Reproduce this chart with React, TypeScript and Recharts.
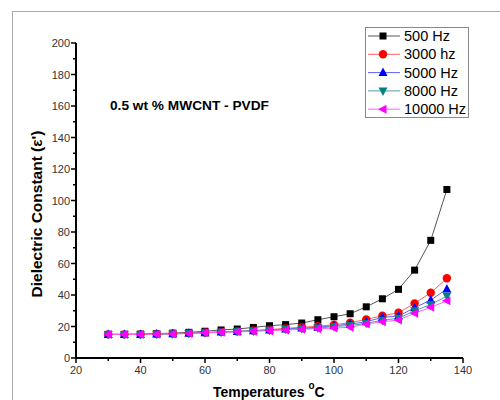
import React from 'react';
import { LineChart, Line, XAxis, YAxis } from 'recharts';

const temps = [30, 35, 40, 45, 50, 55, 60, 65, 70, 75, 80, 85, 90, 95, 100, 105, 110, 115, 120, 125, 130, 135];
const hz500 = [15, 15, 15.2, 15.5, 15.8, 16.3, 17, 17.8, 18.4, 19.4, 20.5, 21.2, 22.2, 24.3, 26.2, 28.1, 32.5, 37.6, 43.6, 55.8, 74.7, 107];
const hz3000 = [15, 15, 15, 15.2, 15.5, 15.8, 16.2, 16.6, 17, 17.5, 18, 18.8, 19.5, 20.2, 21.1, 22.4, 24.5, 26.8, 28.7, 34.7, 41.4, 50.6];
const hz5000 = [15, 15, 15, 15.2, 15.4, 15.7, 16.1, 16.5, 16.9, 17.3, 17.8, 18.4, 19, 19.5, 20.5, 21.5, 23, 25.8, 26.6, 31.9, 36.8, 43.8];
const hz8000 = [15, 15, 15, 15.1, 15.3, 15.6, 16, 16.4, 16.8, 17.2, 17.6, 18.2, 18.6, 19, 20, 20.6, 22, 24, 25.2, 30, 34, 39.3];
const hz10000 = [15, 15, 15, 15.1, 15.3, 15.6, 16, 16.3, 16.6, 17, 17.3, 17.8, 18.2, 18.6, 19, 19.5, 21.6, 23, 24.1, 28.4, 32.2, 36.3];

const xTicks = [20, 30, 40, 50, 60, 70, 80, 90, 100, 110, 120, 130, 140];
const yTicks = [0, 10, 20, 30, 40, 50, 60, 70, 80, 90, 100, 110, 120, 130, 140, 150, 160, 170, 180, 190, 200];

const data = temps.map((t, i) => ({
  t,
  a: hz500[i],
  b: hz3000[i],
  c: hz5000[i],
  d: hz8000[i],
  e: hz10000[i],
}));

const series = [
  { key: 'a', name: '500 Hz', color: '#000000', line: '#555555', shape: 'square' },
  { key: 'b', name: '3000 hz', color: '#ff0000', line: '#ff6060', shape: 'circle' },
  { key: 'c', name: '5000 Hz', color: '#0000ff', line: '#6060ff', shape: 'up' },
  { key: 'd', name: '8000 Hz', color: '#008080', line: '#50a0a0', shape: 'down' },
  { key: 'e', name: '10000 Hz', color: '#ff00ff', line: '#ff60ff', shape: 'left' },
];

const font = 'Liberation Sans, Arial, sans-serif';

function Marker({ cx, cy, shape, color }: any) {
  if (cx == null || cy == null) return null;
  const s = 3.5;
  if (shape === 'square') return <rect x={cx - s} y={cy - s} width={2 * s} height={2 * s} fill={color} />;
  if (shape === 'circle') return <circle cx={cx} cy={cy} r={4.2} fill={color} />;
  let pts = '';
  if (shape === 'up') pts = `${cx},${cy - 5} ${cx - 4.5},${cy + 3.5} ${cx + 4.5},${cy + 3.5}`;
  if (shape === 'down') pts = `${cx},${cy + 5} ${cx - 4.5},${cy - 3.5} ${cx + 4.5},${cy - 3.5}`;
  if (shape === 'left') pts = `${cx - 5},${cy} ${cx + 3.5},${cy - 4.5} ${cx + 3.5},${cy + 4.5}`;
  return <polygon points={pts} fill={color} />;
}

function XTick({ x, y, payload }: any) {
  const major = payload.value % 20 === 0;
  return (
    <g>
      <line x1={x} x2={x} y1={y} y2={y + (major ? 5 : 3)} stroke="#000" strokeWidth={1.5} />
      {major && (
        <text x={x} y={y + 16} textAnchor="middle" fontSize={11} fill="#333" fontFamily={font}>
          {payload.value}
        </text>
      )}
    </g>
  );
}

function YTick({ x, y, payload }: any) {
  const major = payload.value % 20 === 0;
  return (
    <g>
      <line x1={x} x2={x - (major ? 5 : 3)} y1={y} y2={y} stroke="#000" strokeWidth={1.5} />
      {major && (
        <text x={x - 6} y={y + 4} textAnchor="end" fontSize={11} fill="#333" fontFamily={font}>
          {payload.value}
        </text>
      )}
    </g>
  );
}

function LegendBox() {
  return (
    <svg width={104} height={91} style={{ display: 'block' }}>
      <rect x={0.5} y={0.5} width={103} height={90} fill="#fff" stroke="#888" />
      {series.map((s, i) => {
        const cy = 9 + i * 18.3;
        return (
          <g key={s.key}>
            <line x1={3} x2={35} y1={cy} y2={cy} stroke={s.line} strokeWidth={1} />
            <Marker cx={18} cy={cy} shape={s.shape} color={s.color} />
            <text x={39} y={cy + 5} fontSize={14.5} fill="#000" fontFamily={font}>
              {s.name}
            </text>
          </g>
        );
      })}
    </svg>
  );
}

export default function App() {
  return (
    <div style={{ position: 'absolute', left: 0, top: 0, width: 500, height: 400, background: '#fff', overflow: 'hidden' }}>
      <div style={{ position: 'absolute', left: 12, top: 11, width: 600, height: 500, borderLeft: '1px solid #aaa', borderTop: '1px solid #aaa' }} />
      <div style={{ position: 'absolute', left: 0, top: 0 }}>
        <LineChart width={500} height={400} data={data} margin={{ top: 43, right: 37, bottom: 12, left: 0 }}>
          <XAxis
            dataKey="t"
            type="number"
            domain={[20, 140]}
            ticks={xTicks}
            height={30}
            tickSize={0}
            tickMargin={0}
            tickLine={false}
            axisLine={{ stroke: '#000', strokeWidth: 2 }}
            tick={<XTick />}
            interval={0}
          />
          <YAxis
            type="number"
            domain={[0, 200]}
            ticks={yTicks}
            width={76}
            tickSize={0}
            tickMargin={0}
            tickLine={false}
            axisLine={{ stroke: '#000', strokeWidth: 2 }}
            tick={<YTick />}
            interval={0}
          />
          {series.map((s) => (
            <Line
              key={s.key}
              dataKey={s.key}
              name={s.name}
              stroke={s.line}
              strokeWidth={1}
              isAnimationActive={false}
              dot={(p: any) => <Marker key={`${s.key}-${p.index}`} cx={p.cx} cy={p.cy} shape={s.shape} color={s.color} />}
              activeDot={false}
            />
          ))}
        </LineChart>
      </div>
      <div style={{ position: 'absolute', left: 365, top: 27 }}>
        <LegendBox />
      </div>
      <div style={{ position: 'absolute', left: 110, top: 98, fontFamily: font, fontWeight: 'bold', fontSize: 13.7, color: '#000', whiteSpace: 'nowrap' }}>
        0.5 wt % MWCNT - PVDF
      </div>
      <div
        style={{
          position: 'absolute',
          left: 37,
          top: 214,
          transform: 'translate(-50%, -50%) rotate(-90deg)',
          fontFamily: font,
          fontWeight: 'bold',
          fontSize: 15.5,
          whiteSpace: 'nowrap',
        }}
      >
        Dielectric Constant (ε')
      </div>
      <div style={{ position: 'absolute', left: 213, top: 384, fontFamily: font, fontWeight: 'bold', fontSize: 14, whiteSpace: 'nowrap' }}>
        Temperatures <sup style={{ fontSize: 10, verticalAlign: 'top', position: 'relative', top: -4 }}>o</sup>C
      </div>
    </div>
  );
}
